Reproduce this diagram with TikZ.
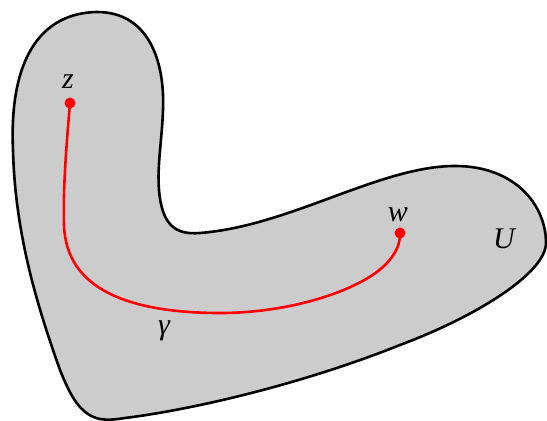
\documentclass[tikz,border=0pt]{standalone}
\usepackage{fontspec}
\setmainfont{Liberation Serif}
\definecolor{regiongray}{HTML}{CCCCCC}
\tikzset{
  region/.style={draw=black, line width=1.3pt, fill=regiongray},
  curve/.style={draw=red, line width=1.3pt},
  pt/.style={circle, fill=red, inner sep=0pt, minimum size=5.5pt},
  lbl/.style={font=\fontsize{15}{18}\selectfont\itshape, inner sep=0pt}
}
\begin{document}
\begin{tikzpicture}[x=0.5pt,y=-0.5pt]
\useasboundingbox (0,0) rectangle (547,421);
\path[region] (100,419)
  .. controls (80,415) and (70,395) .. (60,370)
  .. controls (35,300) and (15,230) .. (13,150)
  .. controls (9,60) and (40,13) .. (97,12)
  .. controls (148,12) and (165,60) .. (163,110)
  .. controls (162,140) and (157,165) .. (159,190)
  .. controls (162,225) and (175,235) .. (200,233)
  .. controls (290,226) and (380,166) .. (455,166)
  .. controls (515,166) and (546,205) .. (546,243)
  .. controls (546,272) and (480,315) .. (400,345)
  .. controls (300,385) and (190,410) .. (125,418)
  .. controls (113,420) and (106,420) .. (100,419) -- cycle;
\node[pt] (z) at (70,103) {};
\node[pt] (w) at (400,233) {};
\draw[curve] (z.center)
  .. controls (66,150) and (63,190) .. (64,225)
  .. controls (66,290) and (130,312) .. (215,313)
  .. controls (290,314) and (360,290) .. (385,265)
  .. controls (398,252) and (400,242) .. (w.center);
\node[lbl] (zl) at (68,82) {z};
\node[lbl] (wl) at (398,215) {w};
\node[lbl] (ul) at (504,239) {U};
\node[lbl] (gl) at (164,331) {γ};
\end{tikzpicture}
\end{document}
